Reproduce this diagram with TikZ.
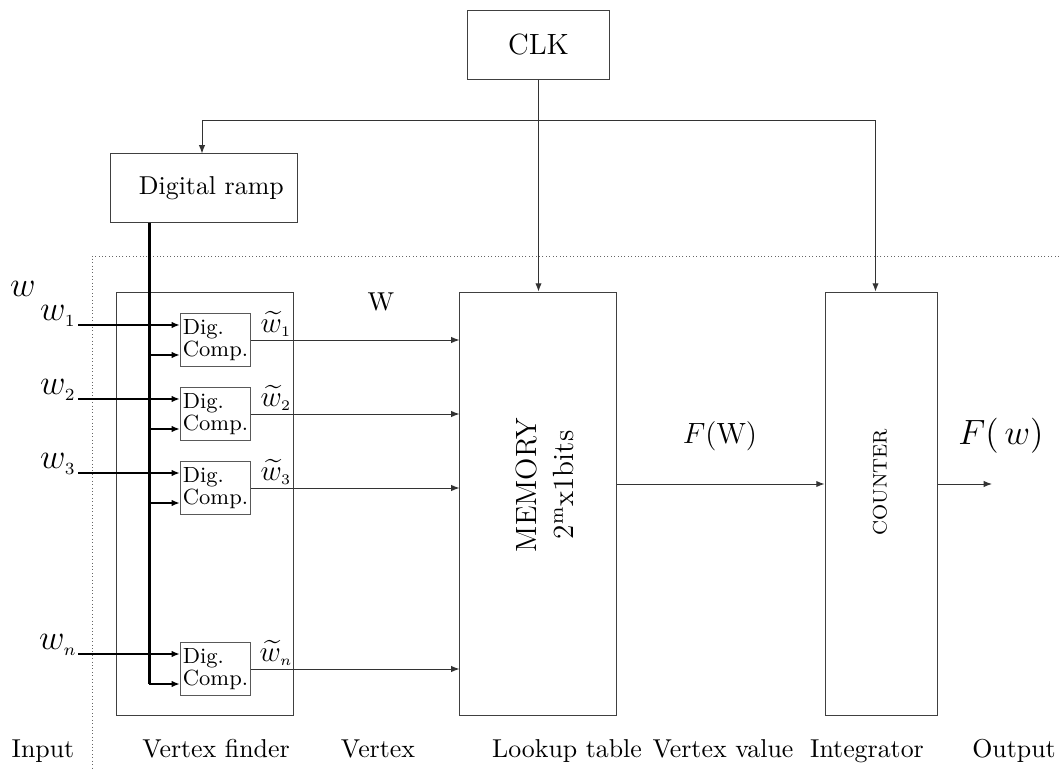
\documentclass[tikz,border=0pt]{standalone}
\usepackage{amsmath}
\usepackage{tikz}
\usetikzlibrary{arrows.meta,calc}

\newcommand{\txtsize}{\fontsize{10.6}{12.8}\selectfont}

\tikzset{
    blk/.style={draw=black!75, thin, inner sep=0pt, font=\txtsize},
    comp/.style={draw=black!65, thin, align=left, inner sep=1pt,
        minimum width=26.7pt, minimum height=21.7pt, font=\small},
    lbl/.style={inner sep=1pt},
    bus/.style={line width=1.2pt},
    sig/.style={thin, black!80},
    tip/.style={-{Latex[length=3.4pt,width=2.6pt]}},
}

\begin{document}
\begin{tikzpicture}[x=0.41pt, y=-0.41pt]
        \useasboundingbox (0,0) rectangle (1059,770);

        % boxes
        \node[blk, font=\large, minimum width=58.6pt, minimum height=27.9pt] (clk) at (538.5,45) {CLK};
        \node[blk, minimum width=76.3pt, minimum height=27.9pt] (ramp) at (204,188) {\hspace{6pt}Digital ramp};
        \node[blk, minimum width=72.2pt, minimum height=173.8pt] (vf) at (205,504) {};
        \node[blk, minimum width=64pt, minimum height=173.8pt] (mem) at (538,504) {};
        \node[blk, minimum width=46.3pt, minimum height=173.8pt] (cnt) at (881.5,504) {};

        % box texts
        \node[lbl, rotate=90, align=center, font=\large] (memtxt) at (545,485) {MEMORY\\[1pt]2$^{\mathrm{m}}$x1bits};
        \node[lbl, rotate=90, font=\footnotesize] (cnttxt) at (880,482) {COUNTER};

        % dotted frame
        \draw[densely dotted, black!60] (1059,256) -- (92,256) -- (92,770);

        % clock lines
        \coordinate (ck) at (538,120);
        \draw[sig,tip] (clk.south) -- (clk.south |- mem.north);
        \draw[sig,tip] (ck) -| ($(ramp.north)+(-2,0)$);
        \draw[sig,tip] (ck) -| ($(cnt.north)+(-6,0)$);

        % ramp bus
        \coordinate (rb) at ($(ramp.south west)+(39,0)$);

        % comparators
        \foreach \i/\y/\s in {1/340/1, 2/414/2, 3/488/3, 4/669/n} {
            \node[comp] (c\i) at (215.5,\y) {Dig.\\[-2pt]Comp.};
            \node[lbl, font=\Large] (w\i) at (58,\y-24) {$w_{\scriptscriptstyle\s}$};
            \node[lbl, font=\large, inner sep=0pt] (v\i) at (276,\y-16) {$\widetilde{w}_{\scriptscriptstyle\s}$};
            \coordinate (in\i) at (78,\y-15);
            \coordinate (lo\i) at ($(c\i.west)+(0,15)$);
            \draw[bus,tip] (in\i) -- (in\i -| c\i.west);
            \draw[sig,tip] (c\i.east) -- (c\i.east -| mem.west);
        }
        \draw[bus] (rb) -- (rb |- lo4);
        \foreach \i in {1,2,3,4} {
            \draw[bus,tip] (rb |- lo\i) -- (lo\i);
        }

        % memory to counter to output
        \coordinate (mo) at ($(mem.east)+(0,-20)$);
        \coordinate (out) at (992,484);
        \draw[sig,tip] (mo) -- (mo -| cnt.west);
        \draw[sig,tip] (mo -| cnt.east) -- (out);

        % signal names
        \node[lbl, font=\Large] (wall) at (23,289) {$w$};
        \node[lbl, font=\txtsize] (W) at (381,302) {W};
        \node[lbl, font=\large] (FW) at (720,436) {$F(\mathrm{W})$};
        \node[lbl, font=\Large] (Fw) at (1001,436) {$F(\,w)$};

        % stage names
        \foreach \x/\t in {43/Input, 216/Vertex finder, 378/Vertex, 567/Lookup table,
                          723/Vertex value, 867/Integrator, 1014/Output} {
            \node[lbl, anchor=base, font=\txtsize] at (\x,757) {\t};
        }

    \end{tikzpicture}
\end{document}
